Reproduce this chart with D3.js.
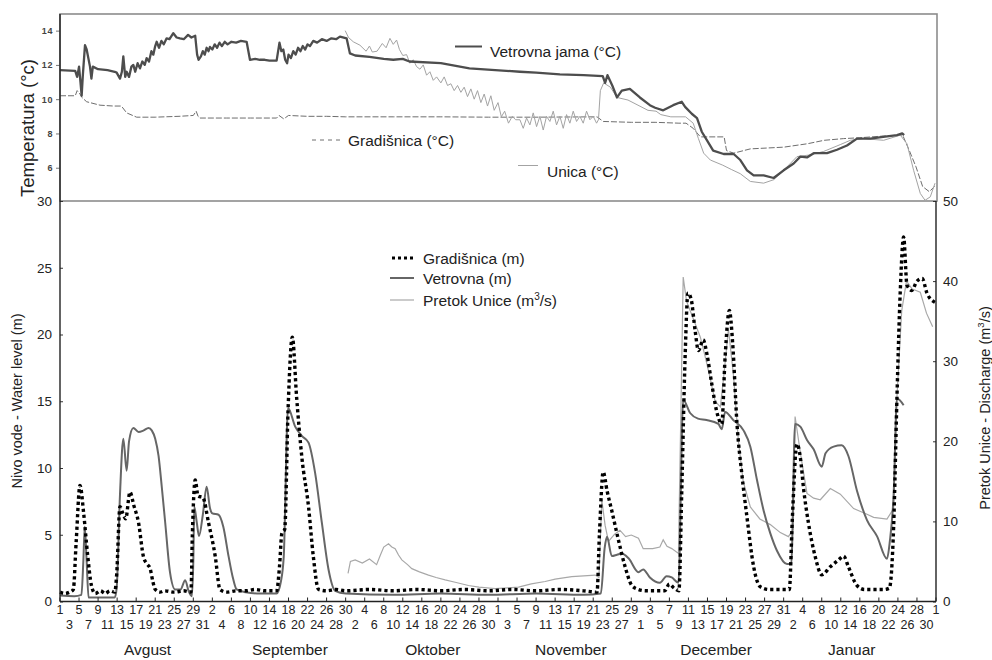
<!DOCTYPE html>
<html>
<head>
<meta charset="utf-8">
<script src="https://cdn.jsdelivr.net/npm/d3@7"></script>
<style>
  html, body { margin: 0; padding: 0; background: #fff; }
  svg { display: block; font-family: "Liberation Sans", Arial, sans-serif; }
</style>
</head>
<body>
<svg id="chart" width="992" height="660"></svg>
<script>
// ---------- DATA (day index = days since 1 August) ----------
const monthNames = ["Avgust", "September", "Oktober", "November", "December", "Januar"];
const monthLengths = [31, 30, 31, 30, 31, 31];
const monthLabelDay = [18.4, 48.3, 78.3, 107.3, 137.8, 166.3];
const levelTicks = [0, 5, 10, 15, 20, 25, 30];
const dischargeTicks = [0, 10, 20, 30, 40, 50];
const tempTicks = [6, 8, 10, 12, 14];

// Gradišnica water level (m)
const gradLevel = [[0,0.7],[1,0.6],[2,0.7],[2.8,0.9],[3.4,4.5],[4.2,8.7],[5,6.5],[5.8,3.5],[6.6,1.2],[7.4,0.6],[8.5,0.8],[9.5,0.6],[10.5,0.8],[11.5,0.7],
[11.9,2.0],[12.6,7.1],[13.2,6.6],[13.8,6.2],[14.7,8.2],[15.5,7.2],[16.5,5.9],[17.5,3.4],[18.3,2.8],[18.9,2.5],[19.5,1.5],[20,0.9],[21,0.7],[22,0.8],[24,0.7],[26,0.8],[27.5,0.7],
[27.8,5.0],[28.4,9.1],[29,7.9],[30,7.8],[31.2,5.9],[32.6,3.4],[33.6,0.9],[35,0.7],[37,0.8],[39,0.8],[41,0.9],[43,0.8],[45.5,0.8],
[46.1,2.6],[46.6,5.1],[47.2,5.4],[47.9,14.3],[48.8,19.8],[49.7,15.3],[50.8,10.8],[52.2,7.1],[53.2,3.4],[54.3,0.9],[56,0.8],[58,0.9],[60,0.8],[65,0.9],[70,0.8],[75,0.9],[80,0.8],[85,0.9],[90,0.8],[95,0.9],[100,0.8],[105,0.9],[110,0.8],[112.8,0.7],
[113.3,5.0],[114.1,9.7],[114.9,8.3],[115.9,6.8],[117.3,4.6],[118.7,2.6],[120.1,1.2],[121.5,0.9],[123,0.8],[125,0.8],[127,0.8],[128,1.3],[129,1.0],[130,0.8],
[130.6,8.3],[131.3,18.3],[131.9,23.1],[132.6,22.6],[133.4,20.3],[134.1,18.8],[135.1,19.6],[135.9,18.5],[136.9,16.3],[137.9,14.3],[139,13.3],[139.7,18.3],[140.6,21.8],[141.3,19.3],[142.2,13.3],[143.2,9.6],[144.3,6.3],[145.7,2.6],[147.1,1.1],[149,0.9],[151,0.9],[153.2,0.9],
[153.8,6],[154.8,11.8],[155.5,10.8],[156.2,8.4],[157.2,5.9],[158.6,3.4],[160,2.0],[161.8,2.6],[163.5,3.1],[164.6,3.4],[165.6,2.6],[167.4,1.2],[169,0.9],[171,0.9],[173,0.9],[174.2,1.0],
[175.1,5.6],[175.8,15.3],[176.5,23.3],[177.2,27.3],[177.9,23.7],[178.9,23.3],[180,24],[181.1,24.2],[182.1,23.1],[183.8,22.4]];

// Vetrovna water level (m)
const vetLevel = [[0,0.45],[3,0.4],[4.5,0.5],[4.9,3.0],[5.2,5.6],[5.6,3.0],[6.0,0.3],[8,0.3],[11.5,0.3],
[11.9,1.0],[12.6,8],[13.3,12.2],[14,9.8],[14.5,12],[15.4,13],[16.5,12.7],[17.5,12.8],[18.6,13],[19.3,12.8],[20,12.2],[20.7,10.9],[21.4,8.5],[22.1,5.9],[23.1,2.2],[24.2,0.9],[25.3,0.9],[26.3,1.6],[27,0.8],[27.7,0.4],
[28.0,3],[28.2,7.1],[28.7,6.0],[29.2,4.9],[30.0,6.5],[30.8,8.6],[31.5,7.0],[32,6.6],[33.3,6.5],[34.3,5.6],[35.4,3.4],[36.3,1.8],[37.1,0.9],[39,0.7],[42,0.6],[45.5,0.6],
[46.4,1.5],[47,3.4],[47.9,14.5],[49.4,13.1],[50.8,12.4],[52.2,11.9],[53.6,9.6],[55,5.9],[56.4,2.4],[57.8,0.8],[60,0.6],[70,0.5],[80,0.6],[90,0.5],[100,0.6],[110,0.5],[113.6,0.6],
[114.4,4.0],[114.9,4.85],[115.9,3.4],[117,3.5],[118,3.6],[119.5,3.2],[121.5,2.2],[122.5,2.4],[123.9,1.8],[126,1.4],[127.4,1.9],[128.5,1.8],[129.9,1.4],
[130.9,15.1],[132.4,14.1],[134,13.7],[135.8,13.6],[138.3,13.3],[139,12.9],[139.7,14.2],[141.4,13.6],[143.6,12.8],[145,11.6],[146.4,9.1],[147.8,6.8],[149.2,5.1],[150.6,3.8],[152.7,2.8],[153.6,2.8],
[154.4,13.3],[155.5,13.1],[156.9,12.1],[158.3,11.4],[160,10.1],[160.8,11.1],[162.5,11.6],[164.2,11.7],[165.6,10.9],[167.4,8.3],[169.5,6.1],[171.6,4.9],[173.7,3.2],[174.3,4.5],[175.1,8],[175.8,15.2],[177.2,14.7]];

// Pretok Unice (m3/s)
const unicaFlow = [[60.5,3.5],[61,5.0],[62,5.2],[63.5,4.8],[65,5.3],[66.5,4.6],[67.3,5.8],[68,6.8],[69,7.2],[69.7,6.8],[70.4,6.6],[71.1,5.8],[71.8,5.2],[73,4.6],[73.9,4.1],[75.5,3.7],[77.4,3.3],[79,3.0],[80.9,2.7],[83,2.4],[85.8,2.0],[88,1.8],[91.4,1.6],[94,1.7],[96.3,1.8],[99,2.2],[101.9,2.5],[104,2.8],[107.5,3.1],[110,3.2],[112.4,3.3],[113.2,3.0],
[113.8,12.7],[114.5,9.5],[115.2,7.5],[116.5,8.4],[117.6,8.9],[118.8,8.1],[120,8.3],[121.5,7.9],[122.5,6.6],[124.5,6.6],[126,6.8],[126.7,7.7],[127.5,6.9],[128.5,6.6],[129.9,6.0],
[130.9,40.5],[131.6,37.5],[133.4,34.7],[134.5,33],[135.5,30.6],[136.6,27.8],[137.6,25],[138.7,24.3],[139.4,28],[140.4,34],[141.5,28],[142.5,20],[143.5,15],[145,11.8],[147,10.3],[149.2,9.6],[151.3,8.6],[153,8.1],[154,9],
[154.4,23.1],[155.5,18.6],[156.9,13.5],[158.3,12.9],[159.7,12.7],[161.8,14.1],[163.9,13.4],[166.7,11.6],[169.5,10.9],[170.9,10.5],[173.7,10.3],[175.1,11.6],[175.8,25.6],[176.8,36.3],[177.8,40],[179,39],[180.7,38.6],[182,36],[183.3,34.3]];

// Vetrovna jama temperature (°C)
const vetTemp = [[0,11.7],[3.2,11.65],[3.6,11.3],[4.0,11.9],[4.3,11.0],[4.55,10.2],[4.8,11.4],[5.25,13.15],[5.6,12.9],[6.3,11.9],[6.6,11.2],[6.9,11.9],[8,11.75],[10,11.7],[11.5,11.6],[11.9,11.55],[12.6,11.2],[13.0,11.6],[13.3,12.5],[13.7,11.3],[14.0,11.6],[14.5,11.3],[15.0,11.9],[15.4,12.0],[15.8,11.6],[16.3,12.1],[16.8,11.8],[17.3,12.2],[17.8,12.0],[18.2,12.4],[18.7,12.2],[19.2,12.8],[19.6,12.6],[20.0,13.1],[20.3,13.35],[20.8,13.0],[21.3,13.4],[21.8,13.2],[22.4,13.55],[23.0,13.5],[23.8,13.85],[24.5,13.6],[25.2,13.55],[26.0,13.5],[26.9,13.75],[27.6,13.6],[28.4,13.7],[28.8,12.6],[29.1,12.3],[29.6,12.5],[30.0,12.8],[30.4,12.6],[30.8,13.0],[31.2,12.8],[31.5,13.05],[32.0,12.9],[32.5,13.2],[33.0,13.0],[33.5,13.3],[34.0,13.1],[34.6,13.35],[35.2,13.2],[36.0,13.35],[37,13.3],[38,13.4],[39.2,13.35],[39.9,12.3],[41,12.35],[42,12.3],[43,12.3],[44,12.25],[45.5,12.25],[46.1,13.3],[46.5,12.8],[46.9,12.9],[47.3,12.3],[47.7,12.1],[48.0,12.6],[48.5,12.4],[49.0,12.8],[49.5,12.6],[50.0,13.0],[50.5,12.8],[51.0,13.1],[51.5,12.9],[52.0,13.2],[52.5,13.1],[53.2,13.4],[54,13.3],[55,13.5],[56,13.4],[57,13.55],[58,13.5],[58.8,13.65],[60.2,13.55],[60.9,12.67],[62,12.55],[65,12.47],[68,12.35],[70,12.3],[72,12.35],[73.4,12.2],[80,12.1],[86,11.8],[96.6,11.6],[100,11.55],[105,11.45],[110,11.4],[114,11.35],[114.5,10.95],[115,11.4],[116,10.8],[117,10.1],[118,10.5],[119.7,10.6],[121.8,10.1],[123.9,9.65],[125,9.5],[126.7,9.35],[128.8,9.65],[130.6,9.85],[131.3,9.55],[132.7,9.15],[133.8,8.9],[134.8,8.1],[135.9,7.6],[137.2,7.0],[139.4,6.8],[141.5,6.8],[142.9,6.45],[144.3,5.85],[145.7,5.55],[147.8,5.55],[149.9,5.4],[152,5.85],[154.1,6.25],[155.5,6.65],[156.9,6.6],[158.3,6.85],[161.1,6.85],[163.2,7.05],[165.3,7.3],[167.4,7.7],[170.2,7.7],[172.9,7.8],[175.8,7.9],[176.9,8.0],[177.3,7.9]];

// Gradišnica temperature (°C)
const gradTemp = [[0,10.2],[3.2,10.2],[3.6,10.5],[4.2,10.3],[4.6,10.1],[5.6,9.85],[8.4,9.65],[11.2,9.6],[12.9,9.6],[14.0,9.2],[16.1,8.95],[20,8.95],[25,9.0],[28,9.05],[28.6,9.3],[29.0,9.0],[29.4,8.9],[35,8.9],[40,8.9],[45.5,8.9],[46,9.05],[47,8.85],[48,9.05],[52,9.0],[56,9.0],[60,8.97],[70,8.97],[80,8.97],[90,8.95],[100,8.95],[112.8,8.97],[114.1,8.7],[120,8.65],[125,8.65],[130,8.6],[131.5,8.6],[133,8.3],[134.5,7.8],[139.5,7.8],[140,7.0],[141.5,6.85],[145,7.1],[152,7.2],[157,7.4],[160.5,7.6],[164.6,7.7],[168,7.75],[173,7.85],[177,7.9],[178.4,7.0],[179.8,6.05],[181.2,4.9],[182.6,4.6],[184,5.0]];

// Unica temperature (°C)
const unicaTemp = [[59.9,14.0],[60.6,13.6],[61.6,13.35],[63,13.15],[64.3,12.8],[65,13.1],[65.6,12.75],[66.6,12.8],[67.7,13.25],[68.5,13.0],[69.3,13.55],[70,13.2],[70.7,13.45],[71.3,12.9],[72,12.55],[72.8,12.6],[73.5,12.1],[74.2,12.3],[74.9,11.9],[75.6,11.75],[76.3,12.0],[77,11.4],[77.7,11.6],[78.4,11.1],[79.1,11.3],[80,10.95],[80.7,11.3],[81.4,10.8],[82.1,10.9],[82.8,10.5],[83.5,10.8],[84.2,10.4],[84.9,10.7],[85.6,10.15],[86.3,10.6],[87,10.0],[87.7,10.5],[88.4,9.8],[89.1,10.3],[89.8,9.6],[90.5,10.2],[91.2,9.35],[92,9.8],[92.7,8.97],[93.4,9.3],[94.2,8.6],[95,9.0],[95.7,8.8],[96.6,8.8],[97.3,8.3],[98,8.9],[98.7,8.5],[99.4,9.2],[100.1,8.4],[100.8,9.0],[101.5,8.2],[102.2,9.0],[102.9,8.7],[103.6,9.3],[104.3,8.5],[105,9.0],[105.7,8.3],[106.4,9.1],[107.1,8.6],[107.8,9.3],[108.5,8.7],[109.2,9.0],[109.9,8.6],[110.6,9.3],[111.3,8.8],[112,9.0],[112.7,8.6],[113.1,8.8],[113.5,10.5],[114.2,10.95],[115.6,10.7],[117,10.1],[119.3,9.95],[121.4,9.65],[123.5,9.35],[125.2,9.3],[126.2,9.1],[128.3,8.97],[131.4,8.97],[133,8.6],[134.1,7.7],[135.2,6.85],[136.6,6.45],[139.2,6.15],[141,5.9],[142.9,5.65],[145,5.2],[147.8,5.1],[149.9,5.3],[152,5.85],[154.8,6.65],[157.6,6.75],[160.4,6.95],[163.9,7.35],[166,7.6],[168.8,7.7],[173,7.6],[176.5,7.9],[177.9,7.4],[179.3,5.85],[180.7,4.5],[181.7,4.1],[182.8,4.3],[183.8,5.1]];

// ---------- CHART ----------
const svg = d3.select("#chart");
const totalDays = d3.sum(monthLengths);
const left = 60, right = 936;
const x = d3.scaleLinear().domain([0, totalDays]).range([left, right]);
const yLevel = d3.scaleLinear().domain([0, 30]).range([601.5, 201]);
const yFlow = d3.scaleLinear().domain([0, 50]).range([601.5, 201]);
const yTemp = d3.scaleLinear().domain([4, 15]).range([202, 13.5]);
const textCol = "#222";

function line(ys) { return d3.line().x(d => x(d[0])).y(d => ys(d[1])); }
function smooth(ys) { return d3.line().curve(d3.curveMonotoneX).x(d => x(d[0])).y(d => ys(d[1])); }

// top panel frame
svg.append("rect").attr("x", left).attr("y", 14).attr("width", right - left + 1).attr("height", 187)
  .attr("fill", "none").attr("stroke", "#8c8c8c").attr("stroke-width", 1.6);

// temperature series
svg.append("path").datum(gradTemp).attr("d", line(yTemp)).attr("fill", "none")
  .attr("stroke", "#6e6e6e").attr("stroke-width", 1).attr("stroke-dasharray", "6,2");
svg.append("path").datum(unicaTemp).attr("d", line(yTemp)).attr("fill", "none")
  .attr("stroke", "#a3a3a3").attr("stroke-width", 1);
svg.append("path").datum(vetTemp).attr("d", line(yTemp)).attr("fill", "none")
  .attr("stroke", "#4d4d4d").attr("stroke-width", 2.3).attr("stroke-linejoin", "round");

// temperature axis
const tAxis = svg.append("g").attr("transform", `translate(${left},0)`)
  .call(d3.axisLeft(yTemp).tickValues(tempTicks).tickSize(4).tickPadding(3));
tAxis.select(".domain").remove();
tAxis.selectAll("line").attr("stroke", "#777");
tAxis.selectAll("text").attr("font-size", 9).attr("font-weight", "bold").attr("fill", "#444")
  .attr("font-family", "'Liberation Sans', Arial, sans-serif").attr("letter-spacing", 0.6);

svg.append("text").attr("transform", "translate(34,128) rotate(-90)")
  .attr("text-anchor", "middle").attr("font-size", 18.5).attr("fill", textCol).text("Temperatura (°c)");

// top legend
svg.append("line").attr("x1", 455).attr("x2", 482).attr("y1", 46.5).attr("y2", 46.5)
  .attr("stroke", "#4d4d4d").attr("stroke-width", 2);
svg.append("text").attr("x", 490).attr("y", 57).attr("font-size", 15.5).attr("fill", textCol).text("Vetrovna jama (°C)");
svg.append("line").attr("x1", 312).attr("x2", 341).attr("y1", 140).attr("y2", 140)
  .attr("stroke", "#6e6e6e").attr("stroke-width", 1).attr("stroke-dasharray", "4,4");
svg.append("text").attr("x", 348).attr("y", 145.5).attr("font-size", 15.5).attr("fill", textCol).text("Gradišnica (°C)");
svg.append("line").attr("x1", 518).attr("x2", 538).attr("y1", 165.5).attr("y2", 165.5)
  .attr("stroke", "#a3a3a3").attr("stroke-width", 1);
svg.append("text").attr("x", 547).attr("y", 176.5).attr("font-size", 15.5).attr("fill", textCol).text("Unica (°C)");

// bottom panel series
svg.append("path").datum(unicaFlow).attr("d", line(yFlow)).attr("fill", "none")
  .attr("stroke", "#a8a8a8").attr("stroke-width", 1.2);
svg.append("path").datum(vetLevel).attr("d", smooth(yLevel)).attr("fill", "none")
  .attr("stroke", "#666").attr("stroke-width", 2).attr("stroke-linejoin", "round");
svg.append("path").datum(gradLevel).attr("d", smooth(yLevel)).attr("fill", "none")
  .attr("stroke", "#000").attr("stroke-width", 3.4).attr("stroke-dasharray", "3.2,3");

// left axis
const lAxis = svg.append("g").attr("transform", `translate(${left},0)`)
  .call(d3.axisLeft(yLevel).tickValues(levelTicks).tickSize(-3).tickPadding(8));
lAxis.select(".domain").remove();
lAxis.selectAll("text").attr("font-size", 13.5).attr("fill", textCol)
  .attr("font-family", "'Liberation Sans', Arial, sans-serif");
lAxis.selectAll("line").attr("stroke", "#333");

// right axis
const rAxis = svg.append("g").attr("transform", `translate(${right},0)`)
  .call(d3.axisRight(yFlow).tickValues(dischargeTicks).tickSize(-3).tickPadding(7));
rAxis.select(".domain").remove();
rAxis.selectAll("text").attr("font-size", 13.5).attr("fill", textCol)
  .attr("font-family", "'Liberation Sans', Arial, sans-serif");
rAxis.selectAll("line").attr("stroke", "#333");

// axis lines
svg.append("line").attr("x1", left).attr("x2", left).attr("y1", 14).attr("y2", 601.5).attr("stroke", "#222").attr("stroke-width", 1.4);
svg.append("line").attr("x1", right).attr("x2", right).attr("y1", 201).attr("y2", 601.5).attr("stroke", "#222").attr("stroke-width", 1.4);
svg.append("line").attr("x1", left).attr("x2", right).attr("y1", 601.5).attr("y2", 601.5).attr("stroke", "#222").attr("stroke-width", 1.4);

// bottom x axis ticks and labels
const dayTicks = d3.range(0, totalDays + 1, 2);
const base = Date.UTC(2001, 7, 1);
const dayLabel = d => String(new Date(base + d * 86400000).getUTCDate());
svg.append("g").selectAll("line").data(dayTicks.filter(d => d % 4 === 0)).join("line")
  .attr("x1", d => x(d)).attr("x2", d => x(d)).attr("y1", 601.5).attr("y2", 597.5)
  .attr("stroke", "#222").attr("stroke-width", 1);
svg.append("g").selectAll("text").data(dayTicks).join("text")
  .attr("x", d => x(d)).attr("y", d => d % 4 === 0 ? 614 : 629)
  .attr("text-anchor", "middle").attr("font-size", 12.5).attr("fill", textCol)
  .text(dayLabel);
svg.append("g").selectAll("text").data(monthNames).join("text")
  .attr("x", (m, i) => x(monthLabelDay[i])).attr("y", 655)
  .attr("text-anchor", "middle").attr("font-size", 15.5).attr("fill", textCol).text(d => d);

// axis titles
svg.append("text").attr("transform", "translate(22,401) rotate(-90)")
  .attr("text-anchor", "middle").attr("font-size", 14.5).attr("fill", textCol).text("Nivo vode - Water level (m)");
const rt = svg.append("text").attr("transform", "translate(990,408) rotate(-90)")
  .attr("text-anchor", "middle").attr("font-size", 14.5).attr("fill", textCol);
rt.append("tspan").text("Pretok Unice - Discharge (m");
rt.append("tspan").attr("font-size", 9.5).attr("dy", -6).text("3");
rt.append("tspan").attr("dy", 6).text("/s)");

// bottom legend
svg.append("line").attr("x1", 392).attr("x2", 414).attr("y1", 258).attr("y2", 258)
  .attr("stroke", "#000").attr("stroke-width", 3).attr("stroke-dasharray", "3,3");
svg.append("text").attr("x", 423).attr("y", 263.5).attr("font-size", 15.5).attr("fill", textCol).text("Gradišnica (m)");
svg.append("line").attr("x1", 390).attr("x2", 414).attr("y1", 278).attr("y2", 278)
  .attr("stroke", "#666").attr("stroke-width", 2);
svg.append("text").attr("x", 423).attr("y", 283.5).attr("font-size", 15.5).attr("fill", textCol).text("Vetrovna (m)");
svg.append("line").attr("x1", 390).attr("x2", 414).attr("y1", 300).attr("y2", 300)
  .attr("stroke", "#a8a8a8").attr("stroke-width", 1.2);
const lt = svg.append("text").attr("x", 423).attr("y", 305.5).attr("font-size", 15.5).attr("fill", textCol);
lt.append("tspan").text("Pretok Unice (m");
lt.append("tspan").attr("font-size", 10).attr("dy", -6).text("3");
lt.append("tspan").attr("dy", 6).text("/s)");
</script>
</body>
</html>
